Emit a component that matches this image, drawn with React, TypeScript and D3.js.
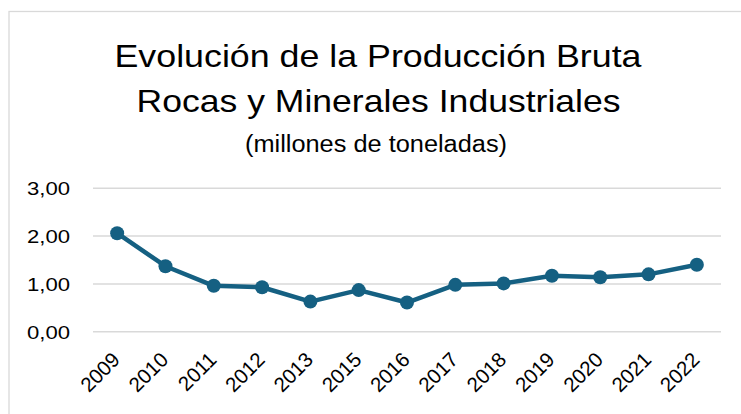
import React from "react";
import * as d3 from "d3";

const years = ["2009","2010","2011","2012","2013","2015","2016","2017","2018","2019","2020","2021","2022"];
const values = [2.06, 1.37, 0.96, 0.93, 0.63, 0.87, 0.61, 0.98, 1.01, 1.17, 1.14, 1.20, 1.40];
const yTicks = [0, 1, 2, 3];
const titleLines = ["Evolución de la Producción Bruta", "Rocas y Minerales Industriales"];
const subtitle = "(millones de toneladas)";

export default function App() {
  const W = 741, H = 414;
  const x = d3.scaleBand<string>().domain(years).range([93, 721]);
  const y = d3.scaleLinear().domain([0, 3]).range([331.7, 188.3]);
  const line = d3.line<number>()
    .x((_, i) => (x(years[i]) as number) + x.bandwidth() / 2)
    .y((d) => y(d));
  const fmt = (v: number) => v.toFixed(2).replace(".", ",");
  const font = "'Liberation Sans', Arial, sans-serif";
  const color = "#156082";
  return (
    <svg width={W} height={H} style={{ position: "absolute", left: 0, top: 0 }}>
      <rect x={0} y={0} width={W} height={H} fill="#fff" />
      <rect x={9} y={11.5} width={W + 20} height={H + 20} fill="#fff" stroke="#d9d9d9" strokeWidth={1.3} />
      <text x={378} y={66.5} textAnchor="middle" fontFamily={font} fontSize={32} fill="#000" textLength={527} lengthAdjust="spacingAndGlyphs">{titleLines[0]}</text>
      <text x={378.5} y={111.5} textAnchor="middle" fontFamily={font} fontSize={32} fill="#000" textLength={484} lengthAdjust="spacingAndGlyphs">{titleLines[1]}</text>
      <text x={376} y={151.5} textAnchor="middle" fontFamily={font} fontSize={23} fill="#000" textLength={262} lengthAdjust="spacingAndGlyphs">{subtitle}</text>
      {yTicks.map((t) => (
        <g key={t}>
          <line x1={93} x2={721} y1={y(t)} y2={y(t)} stroke="#d9d9d9" strokeWidth={1.5} />
          <text x={70} y={y(t)} dy="0.36em" textAnchor="end" fontFamily={font} fontSize={19} fill="#000" textLength={43} lengthAdjust="spacingAndGlyphs">{fmt(t)}</text>
        </g>
      ))}
      {years.map((yr) => {
        const cx = (x(yr) as number) + x.bandwidth() / 2;
        return (
          <text key={yr} transform={`translate(${cx + 4},${361}) rotate(-45)`} textAnchor="end" fontFamily={font} fontSize={20.5} fill="#000">{yr}</text>
        );
      })}
      <path d={line(values) as string} fill="none" stroke={color} strokeWidth={4.5} strokeLinejoin="round" />
      {values.map((v, i) => (
        <circle key={i} cx={(x(years[i]) as number) + x.bandwidth() / 2} cy={y(v)} r={7} fill={color} />
      ))}
    </svg>
  );
}
